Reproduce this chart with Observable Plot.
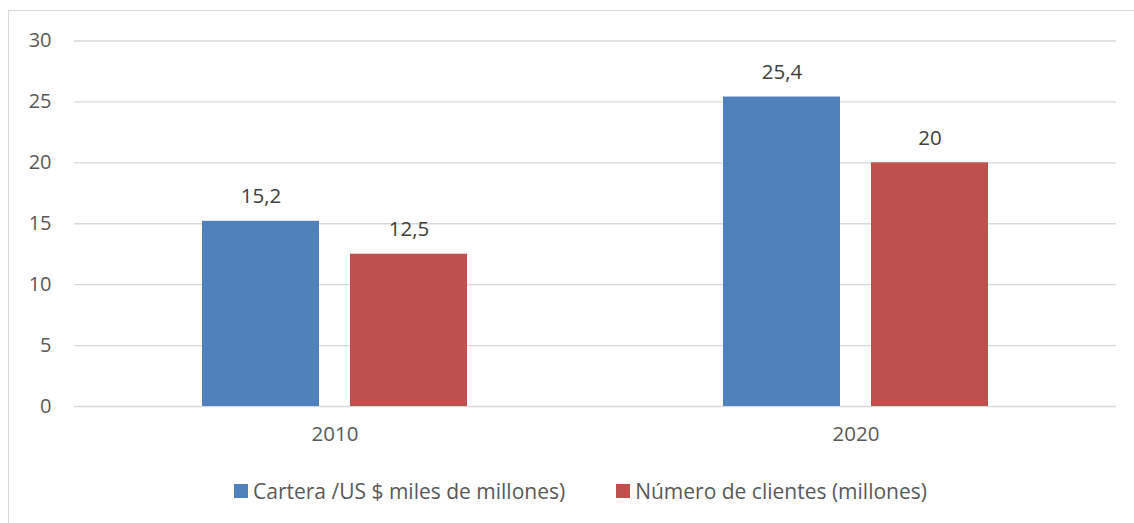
<!DOCTYPE html>
<html>
<head>
<meta charset="utf-8">
<script src="https://cdn.jsdelivr.net/npm/d3@7"></script>
<script src="https://cdn.jsdelivr.net/npm/@observablehq/plot@0.6"></script>
<style>
  html, body { margin: 0; padding: 0; background: #fff; width: 1134px; height: 523px; overflow: hidden; }
  body { position: relative; font-family: "Open Sans", sans-serif; color: #595959; }
  #frame { position: absolute; left: 8px; top: 10px; width: 1200px; height: 600px; border: 1px solid #d9d9d9; box-sizing: border-box; }
  #chart { position: absolute; left: 0; top: 0; }
  #legend { position: absolute; left: 234px; top: 477px; display: flex; align-items: center; font-size: 21px; color: #595959; white-space: nowrap; }
  .item { display: flex; align-items: center; }
  .sw { width: 14px; height: 14px; margin-right: 5px; }
</style>
</head>
<body>
<div id="frame"></div>
<div id="chart"></div>
<div id="legend"></div>
<script>
const years = ["2010", "2020"];
const series = ["Cartera /US $ miles de millones)", "Número de clientes (millones)"];
const cartera = [15.2, 25.4];
const clientes = [12.5, 20];
const colors = ["#4F81BD", "#C0504D"];
const yTicks = [0, 5, 10, 15, 20, 25, 30];

const data = [];
years.forEach((y, i) => {
  data.push({year: y, series: series[0], value: cartera[i]});
  data.push({year: y, series: series[1], value: clientes[i]});
});
const fmt = v => String(v).replace(".", ",");

const chart = Plot.plot({
  width: 1134,
  height: 460,
  marginTop: 40.5,
  marginBottom: 54,
  marginLeft: 73,
  marginRight: 18,
  style: {fontFamily: "Open Sans, sans-serif", fontSize: "20px", color: "#595959", background: "transparent"},
  fx: {domain: years, paddingInner: 0, paddingOuter: 0, label: null},
  x: {domain: series, paddingInner: 0.2095, paddingOuter: 0.855, axis: null},
  y: {domain: [0, 30], label: null},
  color: {domain: series, range: colors},
  marks: [
    Plot.ruleY(yTicks, {stroke: "#d9d9d9", strokeWidth: 1.3, strokeOpacity: 1}),
    Plot.axisY({ticks: yTicks, tickSize: 0, tickPadding: 23, label: null, fontSize: 20, fill: "#595959"}),
    Plot.axisFx({anchor: "bottom", tickSize: 0, tickPadding: 20, label: null, fontSize: 20.5, fill: "#595959"}),
    Plot.barY(data, {fx: "year", x: "series", y: "value", fill: "series"}),
    Plot.text(data, {fx: "year", x: "series", y: "value", text: d => fmt(d.value), dy: -18, lineAnchor: "bottom", fontSize: 20.5, fill: "#404040"})
  ]
});
document.getElementById("chart").appendChild(chart);

const legend = document.getElementById("legend");
series.forEach((s, i) => {
  const it = document.createElement("div");
  it.className = "item";
  if (i > 0) it.style.marginLeft = "51px";
  const sw = document.createElement("div");
  sw.className = "sw";
  sw.style.background = colors[i];
  const t = document.createElement("span");
  t.textContent = s;
  it.appendChild(sw); it.appendChild(t);
  legend.appendChild(it);
});
</script>
</body>
</html>
